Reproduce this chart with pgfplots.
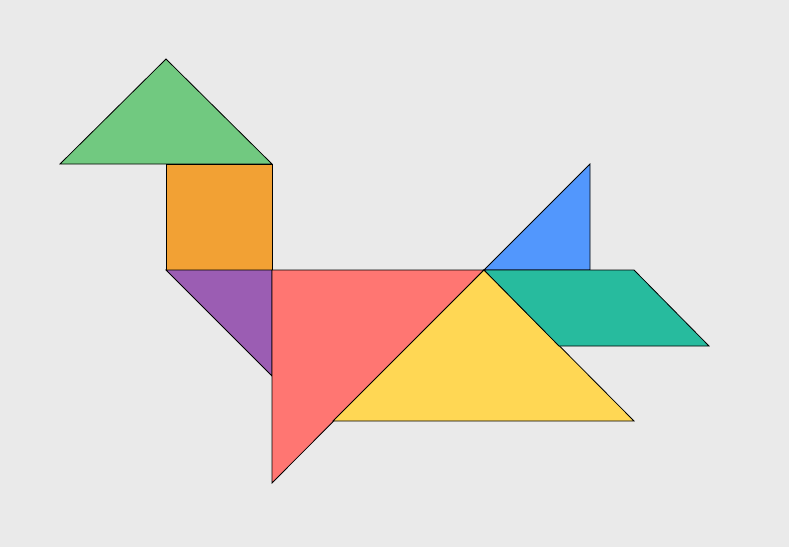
\documentclass[border=0pt]{standalone}
\usepackage{pgfplots}
\pgfplotsset{compat=1.18}
\definecolor{bg}{HTML}{EAEAEA}
\definecolor{cg}{HTML}{71C980}
\definecolor{co}{HTML}{F2A134}
\definecolor{cp}{HTML}{9B5DB3}
\definecolor{cr}{HTML}{FF7672}
\definecolor{cy}{HTML}{FFD754}
\definecolor{cb}{HTML}{5297FD}
\definecolor{ct}{HTML}{27BB9E}
\begin{document}
\begin{tikzpicture}
\begin{axis}[width=789bp,height=547bp,scale only axis,hide axis,
xmin=0,xmax=789,ymin=0,ymax=547,y dir=reverse,clip=false]
\addplot[fill=bg,draw=none] coordinates {(0,0)(789,0)(789,547)(0,547)} --cycle;
\addplot[fill=cg,draw=black,thick] coordinates {(60,164)(166,59)(272,164)} --cycle;
\addplot[fill=co,draw=black,thick] coordinates {(166,164)(272,164)(272,270)(166,270)} --cycle;
\addplot[fill=cp,draw=black,thick] coordinates {(166,270)(272,270)(272,376)} --cycle;
\addplot[fill=cr,draw=black,thick] coordinates {(272,270)(484,270)(272,483)} --cycle;
\addplot[fill=cy,draw=black,thick] coordinates {(484,270)(634,421)(333,421)} --cycle;
\addplot[fill=cb,draw=black,thick] coordinates {(484,270)(590,164)(590,270)} --cycle;
\addplot[fill=ct,draw=black,thick] coordinates {(484,270)(634,270)(709,346)(559,346)} --cycle;
\end{axis}
\end{tikzpicture}
\end{document}
